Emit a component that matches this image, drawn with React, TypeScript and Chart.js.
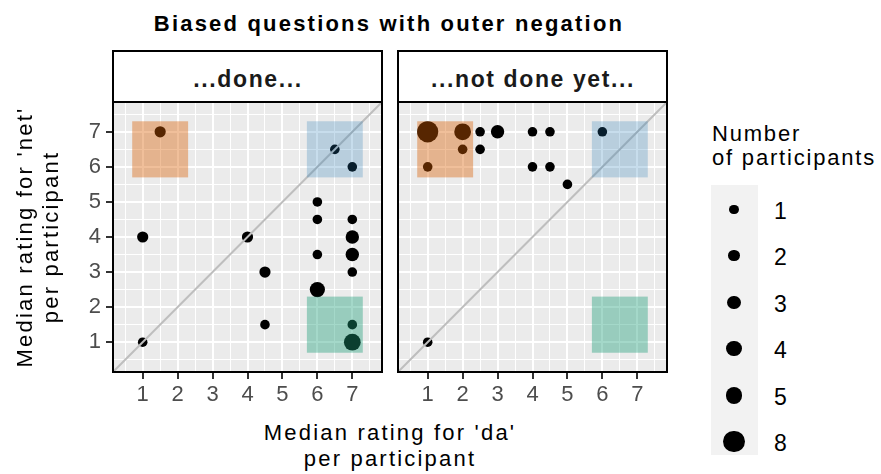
import React, { useEffect, useRef } from 'react';
import { Chart, registerables } from 'chart.js';

Chart.register(...registerables);

// ---------- data ----------
const AXIS_MIN = 0.15;
const AXIS_MAX = 7.85;
const GRID_VALUES = [0.5, 1, 1.5, 2, 2.5, 3, 3.5, 4, 4.5, 5, 5.5, 6, 6.5, 7, 7.5];

const TITLE = 'Biased questions with outer negation';
const PANEL_LABELS = ['...done...', '...not done yet...'];
const X_TITLE = ["Median rating for 'da'", 'per participant'];
const Y_TITLE = ["Median rating for 'net'", 'per participant'];
const LEGEND_TITLE = ['Number', 'of participants'];
const LEGEND_COUNTS = [1, 2, 3, 4, 5, 8];

// panel "...done..."
const doneX = [1.5, 6.5, 7, 6, 6, 7, 1, 4, 7, 6, 7, 4.5, 7, 6, 4.5, 7, 1, 7];
const doneY = [7, 6.5, 6, 5, 4.5, 4.5, 4, 4, 4, 3.5, 3.5, 3, 3, 2.5, 1.5, 1.5, 1, 1];
const doneN = [2, 1, 1, 1, 1, 1, 2, 2, 3, 1, 3, 2, 1, 4, 1, 1, 1, 5];

// panel "...not done yet..."
const notYetX = [1, 2, 2.5, 3, 4, 4.5, 6, 2, 2.5, 1, 4, 4.5, 5, 1];
const notYetY = [7, 7, 7, 7, 7, 7, 7, 6.5, 6.5, 6, 6, 6, 5.5, 1];
const notYetN = [8, 5, 1, 3, 1, 1, 1, 1, 1, 1, 1, 1, 1, 1];

// highlighted regions (data units)
const regionX0 = [0.7, 5.7, 5.7];
const regionX1 = [2.3, 7.3, 7.3];
const regionY0 = [5.7, 5.7, 0.7];
const regionY1 = [7.3, 7.3, 2.3];
const regionColors = ['rgba(217,95,2,0.4)', 'rgba(31,120,180,0.25)', 'rgba(27,158,119,0.4)'];

// ---------- styles ----------
const FONT = "'Liberation Sans', Arial, Helvetica, sans-serif";
const RADIUS: Record<number, number> = { 1: 4.8, 2: 5.6, 3: 6.7, 4: 7.6, 5: 8.4, 8: 10.6 };
const radiusFor = (n: number) => RADIUS[n] ?? 5;
const isMajor = (v: number) => Math.abs(v - Math.round(v)) < 1e-9;

const bgPlugin = {
  id: 'panelBg',
  beforeDraw(chart: any) {
    const { ctx, chartArea: a } = chart;
    ctx.save();
    ctx.fillStyle = '#EBEBEB';
    ctx.fillRect(a.left, a.top, a.right - a.left, a.bottom - a.top);
    ctx.restore();
  },
};

const regionPlugin = {
  id: 'regions',
  afterDatasetsDraw(chart: any) {
    const { ctx, scales } = chart;
    ctx.save();
    for (let i = 0; i < regionX0.length; i++) {
      const x0 = scales.x.getPixelForValue(regionX0[i]);
      const x1 = scales.x.getPixelForValue(regionX1[i]);
      const y0 = scales.y.getPixelForValue(regionY0[i]);
      const y1 = scales.y.getPixelForValue(regionY1[i]);
      ctx.fillStyle = regionColors[i];
      ctx.fillRect(x0, y1, x1 - x0, y0 - y1);
    }
    ctx.restore();
  },
};

const borderPlugin = {
  id: 'panelBorder',
  afterDraw(chart: any) {
    const { ctx, chartArea: a } = chart;
    ctx.save();
    ctx.strokeStyle = '#000';
    ctx.lineWidth = 2;
    ctx.strokeRect(a.left, a.top, a.right - a.left, a.bottom - a.top);
    ctx.restore();
  },
};

function axisGrid(showTicks: boolean) {
  return {
    color: '#FFFFFF',
    lineWidth: (c: any) => (c.tick && isMajor(c.tick.value) ? 2 : 1),
    drawTicks: showTicks,
    tickLength: 7,
    tickWidth: 2,
    tickColor: (c: any) => (c.tick && isMajor(c.tick.value) ? '#333333' : 'rgba(0,0,0,0)'),
  };
}

const zeroPad = (s: any) => {
  s.paddingTop = 0;
  s.paddingBottom = 0;
  s.paddingLeft = 0;
  s.paddingRight = 0;
};

function Panel(props: { xs: number[]; ys: number[]; ns: number[]; left: number; width: number; showY: boolean }) {
  const { xs, ys, ns, left, width, showY } = props;
  const ref = useRef<HTMLCanvasElement>(null);
  const height = 310;
  useEffect(() => {
    const chart = new Chart(ref.current as HTMLCanvasElement, {
      type: 'scatter',
      data: {
        datasets: [
          {
            type: 'line',
            data: [
              { x: AXIS_MIN, y: AXIS_MIN },
              { x: AXIS_MAX, y: AXIS_MAX },
            ],
            borderColor: '#BEBEBE',
            borderWidth: 2,
            pointRadius: 0,
            order: 0,
          } as any,
          {
            data: xs.map((x, i) => ({ x, y: ys[i] })),
            backgroundColor: '#000000',
            borderWidth: 0,
            pointRadius: (c: any) => radiusFor(ns[c.dataIndex]),
            order: 1,
          } as any,
        ],
      },
      options: {
        responsive: false,
        maintainAspectRatio: false,
        animation: false,
        events: [],
        layout: { autoPadding: false, padding: { top: 2, right: 2, left: showY ? 0 : 2, bottom: 0 } },
        plugins: { legend: { display: false }, tooltip: { enabled: false } },
        scales: {
          x: {
            type: 'linear',
            min: AXIS_MIN,
            max: AXIS_MAX,
            afterBuildTicks: (s: any) => {
              s.ticks = GRID_VALUES.map((v) => ({ value: v }));
            },
            afterFit: (s: any) => {
              s.height = 38;
              zeroPad(s);
            },
            grid: axisGrid(true) as any,
            border: { display: false },
            ticks: {
              autoSkip: false,
              maxRotation: 0,
              minRotation: 0,
              padding: 3,
              color: '#4D4D4D',
              font: { family: FONT, size: 22 },
              callback: (v: any) => (isMajor(Number(v)) ? String(Math.round(Number(v))) : ''),
            },
          },
          y: {
            type: 'linear',
            min: AXIS_MIN,
            max: AXIS_MAX,
            afterBuildTicks: (s: any) => {
              s.ticks = GRID_VALUES.map((v) => ({ value: v }));
            },
            afterFit: (s: any) => {
              s.width = showY ? 73 : 0;
              zeroPad(s);
            },
            grid: axisGrid(showY) as any,
            border: { display: false },
            ticks: {
              display: showY,
              autoSkip: false,
              padding: 5,
              color: '#4D4D4D',
              font: { family: FONT, size: 22 },
              callback: (v: any) => (isMajor(Number(v)) ? String(Math.round(Number(v))) : ''),
            },
          },
        },
      } as any,
      plugins: [bgPlugin, regionPlugin, borderPlugin],
    });
    return () => chart.destroy();
  }, []);
  return (
    <canvas
      ref={ref}
      width={width}
      height={height}
      style={{ position: 'absolute', left, top: 100, width, height, display: 'block' }}
    />
  );
}

function Txt(props: {
  x: number;
  y: number;
  text: string;
  size?: number;
  bold?: boolean;
  anchor?: 'start' | 'middle';
  ls?: number;
  color?: string;
}) {
  const { x, y, text, size = 22, bold = false, anchor = 'middle', ls = 0, color = '#000' } = props;
  return (
    <div
      style={{
        position: 'absolute',
        left: x,
        top: y - 0.8465 * size,
        fontFamily: FONT,
        fontSize: size,
        lineHeight: `${size}px`,
        fontWeight: bold ? 700 : 400,
        letterSpacing: ls,
        color,
        whiteSpace: 'nowrap',
        transform: anchor === 'middle' ? 'translateX(-50%)' : undefined,
      }}
    >
      {text}
    </div>
  );
}

function Strip(props: { left: number; width: number }) {
  return (
    <div
      style={{
        position: 'absolute',
        left: props.left,
        top: 50,
        width: props.width,
        height: 53,
        boxSizing: 'border-box',
        border: '2px solid #000',
        background: '#fff',
      }}
    />
  );
}

export default function App() {
  const lineH = 26;
  return (
    <div
      style={{
        position: 'fixed',
        left: 0,
        top: 0,
        width: 881,
        height: 474,
        background: '#fff',
        overflow: 'hidden',
      }}
    >
      <Txt x={389} y={32} text={TITLE} bold ls={2.2} />

      <Strip left={112} width={271} />
      <Strip left={397} width={271} />
      <Txt x={248} y={87} text={PANEL_LABELS[0]} bold size={23} ls={1.6} color="#1A1A1A" />
      <Txt x={533} y={87} text={PANEL_LABELS[1]} bold size={23} ls={1.6} color="#1A1A1A" />

      <Panel xs={doneX} ys={doneY} ns={doneN} left={40} width={344} showY />
      <Panel xs={notYetX} ys={notYetY} ns={notYetN} left={396} width={273} showY={false} />

      {/* x axis title */}
      <Txt x={390} y={441} text={X_TITLE[0]} ls={2.2} />
      <Txt x={390} y={441 + lineH} text={X_TITLE[1]} ls={2.2} />

      {/* y axis title */}
      <div
        style={{
          position: 'absolute',
          left: 38,
          top: 237,
          width: 400,
          transform: 'translate(-50%, -50%) rotate(-90deg)',
          textAlign: 'center',
          fontFamily: FONT,
          fontSize: 22,
          lineHeight: `${lineH}px`,
          letterSpacing: 2.2,
          color: '#000',
          whiteSpace: 'nowrap',
        }}
      >
        <div>{Y_TITLE[0]}</div>
        <div>{Y_TITLE[1]}</div>
      </div>

      {/* legend */}
      <Txt x={712} y={142} text={LEGEND_TITLE[0]} anchor="start" ls={1.8} />
      <Txt x={712} y={166} text={LEGEND_TITLE[1]} anchor="start" ls={1.8} />
      <div
        style={{ position: 'absolute', left: 711, top: 185, width: 47, height: 270, background: '#F2F2F2' }}
      />
      {LEGEND_COUNTS.map((n, i) => {
        const cy = 209.3 + i * 46.5;
        const r = radiusFor(n);
        return (
          <React.Fragment key={n}>
            <div
              style={{
                position: 'absolute',
                left: 734 - r,
                top: cy - r,
                width: 2 * r,
                height: 2 * r,
                borderRadius: '50%',
                background: '#000',
              }}
            />
            <Txt x={774} y={cy + 10} text={String(n)} anchor="start" size={23} />
          </React.Fragment>
        );
      })}
    </div>
  );
}
